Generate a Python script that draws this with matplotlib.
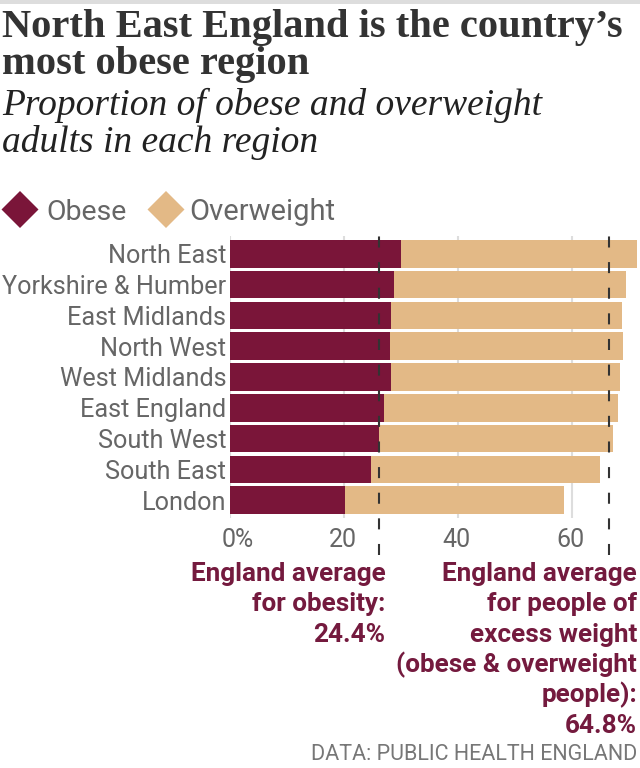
import matplotlib
matplotlib.use("Agg")
import matplotlib.pyplot as plt
from matplotlib.patches import Polygon, Rectangle
import matplotlib.transforms as mtransforms

# ---------------- data ----------------
regions = ["North East", "Yorkshire & Humber", "East Midlands", "North West",
           "West Midlands", "East England", "South West", "South East", "London"]
obese = [30.0, 28.8, 28.2, 28.0, 28.2, 27.0, 26.2, 24.7, 20.2]
excess_total = [71.4, 69.5, 68.9, 69.0, 68.4, 68.1, 67.2, 65.0, 58.7]
overweight = [t - o for t, o in zip(excess_total, obese)]
xticks = [0, 20, 40, 60]
xtick_labels = ["0%", "20", "40", "60"]
# reference lines as drawn in the picture (labelled 24.4% and 64.8%)
avg_line_pos = [26.2, 66.5]
avg_obese_label = ["England average", "for obesity:", "24.4%"]
avg_excess_label = ["England average", "for people of", "excess weight",
                    "(obese & overweight", "people):", "64.8%"]

OBESE_C = "#7a1539"
OVER_C = "#e3b986"
TEXT_GRAY = "#666666"
ANNO_C = "#741a3e"

SANS = ["Roboto", "DejaVu Sans"]
SERIF = ["Liberation Serif", "DejaVu Serif"]

W, H = 640, 768
fig = plt.figure(figsize=(W / 100, H / 100), dpi=100)


def fy(py):
    return 1 - py / H


def fx(px):
    return px / W


# top grey band
fig.add_artist(Rectangle((0, fy(4)), 1, 4 / H, transform=fig.transFigure,
                         color="#dddddd", lw=0))

# title & subtitle
fig.text(fx(2), fy(37.5), "North East England is the country\u2019s", family=SERIF,
         weight="bold", fontsize=29.2, color="#333333", va="baseline", ha="left")
fig.text(fx(2), fy(74), "most obese region", family=SERIF,
         weight="bold", fontsize=29.2, color="#333333", va="baseline", ha="left")
fig.text(fx(2), fy(115), "Proportion of obese and overweight", family=SERIF,
         style="italic", fontsize=27, color="#222222", va="baseline", ha="left")
fig.text(fx(2), fy(151.5), "adults in each region", family=SERIF,
         style="italic", fontsize=27, color="#222222", va="baseline", ha="left")

# legend
def diamond(cx, cy, w, h, color):
    pts = [(fx(cx - w / 2), fy(cy)), (fx(cx), fy(cy - h / 2)),
           (fx(cx + w / 2), fy(cy)), (fx(cx), fy(cy + h / 2))]
    fig.add_artist(Polygon(pts, closed=True, transform=fig.transFigure,
                           color=color, lw=0))

diamond(20, 209.5, 37, 37, OBESE_C)
fig.text(fx(46), fy(220), "Obese", family=SANS, fontsize=20.5, color=TEXT_GRAY,
         va="baseline", ha="left")
diamond(166, 209.5, 37, 37, OVER_C)
fig.text(fx(189), fy(220), "Overweight", family=SANS, fontsize=21, color=TEXT_GRAY,
         va="baseline", ha="left")

# axes
ax_left, ax_right = 230.3, 640
ax_top, ax_bottom = 236, 518
ax = fig.add_axes([fx(ax_left), fy(ax_bottom), (ax_right - ax_left) / W,
                   (ax_bottom - ax_top) / H])
ypos = list(range(len(regions)))
ax.barh(ypos, obese, height=0.89, color=OBESE_C, zorder=2)
ax.barh(ypos, overweight, left=obese, height=0.89, color=OVER_C, zorder=2)
ax.set_xlim(0, 72)
ax.set_ylim(len(regions) - 1 + 0.578, -0.578)
for s in ax.spines.values():
    s.set_visible(False)
ax.set_xticks(xticks)
ax.set_xticklabels([])
ax.tick_params(axis="both", length=0)
ax.xaxis.grid(True, color="#dddddd", lw=1.5, zorder=0)
ax.set_axisbelow(True)
ax.set_yticks(ypos)
ax.set_yticklabels(regions, family=SANS, fontsize=18.2, color=TEXT_GRAY)
ax.tick_params(axis="y", pad=3)

# x tick labels
tr = mtransforms.blended_transform_factory(ax.transData, ax.transAxes)
for xv, lab in zip(xticks, xtick_labels):
    if lab.endswith("%"):
        ax.text(xv, -0.035, lab,
                transform=tr + mtransforms.ScaledTranslation(-9 / 100, 0, fig.dpi_scale_trans),
                ha="left", va="top", family=SANS, fontsize=18, color=TEXT_GRAY)
    else:
        ax.text(xv, -0.035, lab,
                transform=tr + mtransforms.ScaledTranslation(-1.5 / 100, 0, fig.dpi_scale_trans),
                ha="center", va="top", family=SANS, fontsize=18, color=TEXT_GRAY)

# dashed average lines
for xv in avg_line_pos:
    ax.axvline(xv, ymin=-0.131, ymax=1.0, color="#333333", lw=1.5,
               dashes=(5.3, 7.0), clip_on=False, zorder=3)

# annotations
base = [580.7, 611.2, 641.7, 672.2, 702.7, 733.2]
x_left_anno = ax.transData.transform((avg_line_pos[0], 0))[0] + 6
for i, line in enumerate(avg_obese_label):
    fig.text(x_left_anno / W, fy(base[i]), line, family=SANS, weight="bold",
             fontsize=18.8, color=ANNO_C, ha="right", va="baseline")
for i, line in enumerate(avg_excess_label):
    fig.text(fx(637), fy(base[i]), line, family=SANS, weight="bold",
             fontsize=18.8, color=ANNO_C, ha="right", va="baseline")

fig.text(fx(637), fy(760), "DATA: PUBLIC HEALTH ENGLAND", family=SANS,
         fontsize=15.5, color="#777777", ha="right", va="baseline")

fig.savefig("out.png", dpi=100)
